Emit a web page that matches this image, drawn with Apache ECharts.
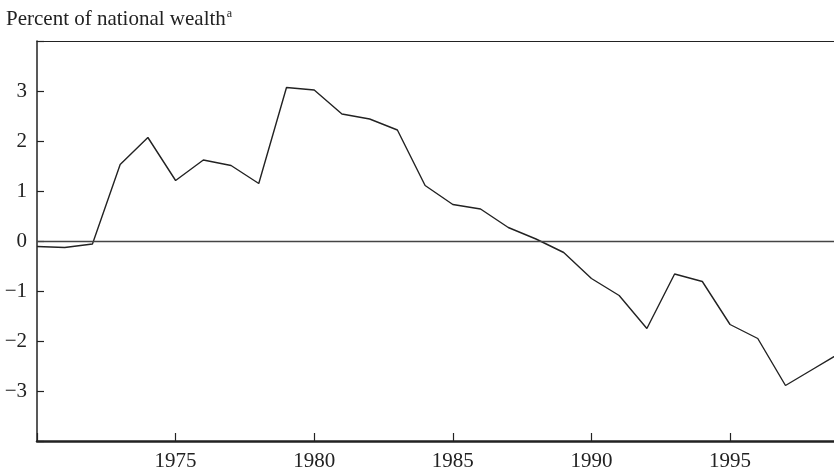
<!DOCTYPE html>
<html>
<head>
<meta charset="utf-8">
<script src="https://cdn.jsdelivr.net/npm/echarts@6/dist/echarts.min.js"></script>
<style>
  html, body { margin: 0; padding: 0; background: #fff; }
  #main { width: 834px; height: 473px; }
</style>
</head>
<body>
<div id="main"></div>
<script>
// years and values (percent of national wealth)
const years = [1970, 1971, 1972, 1973, 1974, 1975, 1976, 1977, 1978, 1979,
  1980, 1981, 1982, 1983, 1984, 1985, 1986, 1987, 1988, 1989,
  1990, 1991, 1992, 1993, 1994, 1995, 1996, 1997, 1998, 1999];
const values = [-0.11, -0.13, -0.06, 1.53, 2.07, 1.21, 1.62, 1.51, 1.15, 3.07,
  3.02, 2.54, 2.44, 2.22, 1.11, 0.73, 0.64, 0.27, 0.04, -0.23,
  -0.75, -1.09, -1.75, -0.66, -0.81, -1.67, -1.95, -2.89, -2.56, -2.23];
const yTicks = [-3, -2, -1, 0, 1, 2, 3];

const font = "'Liberation Serif', 'DejaVu Serif', serif";
const chart = echarts.init(document.getElementById("main"));

chart.setOption({
  animation: false,
  title: {
    text: "Percent of national wealth{sup|a}",
    left: 1,
    top: 3,
    textStyle: {
      fontFamily: font,
      fontSize: 21,
      fontWeight: "normal",
      color: "#222",
      rich: {
        sup: { fontFamily: font, fontSize: 12, verticalAlign: "top", padding: [0, 0, 10, 1], color: "#222" },
      },
    },
  },
  grid: { left: 37, right: 0, top: 41, bottom: 32 },
  xAxis: [
    {
      type: "value",
      min: 1970,
      max: 1998.75,
      interval: 5,
      axisLine: { show: true, onZero: false, lineStyle: { color: "#222", width: 2.5 } },
      axisTick: { show: true, inside: true, length: 8, lineStyle: { color: "#222", width: 1.2 } },
      axisLabel: {
        fontFamily: font,
        fontSize: 21,
        color: "#222",
        margin: 10,
        showMaxLabel: false,
        formatter: (v) => (v === 1970 ? "" : String(v)),
      },
      splitLine: { show: false },
    },
    {
      type: "value",
      position: "top",
      min: 1970,
      max: 1998.75,
      axisLine: { show: true, onZero: false, lineStyle: { color: "#222", width: 1.2 } },
      axisTick: { show: false },
      axisLabel: { show: false },
      splitLine: { show: false },
    },
  ],
  yAxis: {
    type: "value",
    min: -4,
    max: 4,
    interval: 1,
    axisLine: { show: true, onZero: false, lineStyle: { color: "#222", width: 1.5 } },
    axisTick: { show: true, inside: true, length: 7, lineStyle: { color: "#222", width: 1.2 } },
    axisLabel: {
      fontFamily: font,
      fontSize: 21,
      color: "#222",
      margin: 10,
      formatter: (v) => (yTicks.includes(v) ? (v < 0 ? "\u2212" + Math.abs(v) : String(v)) : ""),
    },
    splitLine: { show: false },
  },
  series: [
    {
      type: "line",
      data: years.map((y, i) => [y, values[i]]),
      showSymbol: false,
      clip: true,
      lineStyle: { color: "#222", width: 1.4 },
      markLine: {
        silent: true,
        symbol: "none",
        label: { show: false },
        lineStyle: { color: "#444", width: 1.4, type: "solid" },
        data: [{ yAxis: 0 }],
      },
    },
  ],
});
</script>
</body>
</html>
